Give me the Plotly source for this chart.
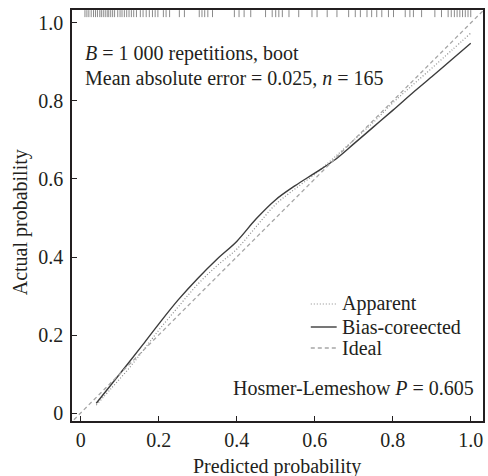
import plotly.graph_objects as go

# ---- data ----
pred_x = [0.04, 0.08, 0.12, 0.16, 0.20, 0.25, 0.30, 0.35, 0.40, 0.45, 0.50,
          0.55, 0.60, 0.65, 0.70, 0.75, 0.80, 0.85, 0.90, 0.95, 1.00]
apparent = [0.020, 0.065, 0.110, 0.160, 0.212, 0.272, 0.330, 0.378, 0.420, 0.478, 0.535,
            0.575, 0.612, 0.655, 0.700, 0.745, 0.795, 0.840, 0.884, 0.929, 0.974]
bias_corrected = [0.025, 0.075, 0.125, 0.176, 0.228, 0.290, 0.345, 0.395, 0.440, 0.498, 0.547,
                  0.583, 0.615, 0.648, 0.690, 0.733, 0.776, 0.820, 0.862, 0.905, 0.948]
ideal_x = [-0.03, 1.04]
ideal_y = [-0.03, 1.04]

rug_x = [0.011, 0.016, 0.021, 0.027, 0.033, 0.038, 0.043, 0.049, 0.053, 0.058, 0.063,
         0.068, 0.072, 0.077, 0.082, 0.087, 0.095, 0.101, 0.106, 0.112, 0.118, 0.124,
         0.130, 0.136, 0.143, 0.153, 0.160, 0.168, 0.176, 0.184, 0.191, 0.198, 0.212,
         0.219, 0.228, 0.253, 0.266, 0.304, 0.311, 0.318, 0.326, 0.338, 0.394, 0.406,
         0.419, 0.436, 0.474, 0.491, 0.500, 0.508, 0.517, 0.534, 0.559, 0.593, 0.606,
         0.632, 0.657, 0.687, 0.704, 0.717, 0.734, 0.746, 0.759, 0.772, 0.789, 0.802,
         0.832, 0.844, 0.853, 0.874, 0.908, 0.925, 0.942, 0.950, 0.958, 0.965, 0.972,
         0.979, 0.986, 0.993, 1.000]
rug_bottom = 1.015
rug_top = 1.033

x_ticks = [0, 0.2, 0.4, 0.6, 0.8, 1.0]
x_tick_text = ["0", "0.2", "0.4", "0.6", "0.8", "1.0"]
y_ticks = [0, 0.2, 0.4, 0.6, 0.8, 1.0]
y_tick_text = ["0", "0.2", "0.4", "0.6", "0.8", "1.0"]

legend_names = ["Apparent", "Bias-coreected", "Ideal"]

FONT = "Liberation Serif, Times New Roman, serif"
INK = "#231f20"
FS = 20

APP_STYLE = dict(color="#8c8c8c", width=1.2, dash="1px,2px")
BIAS_STYLE = dict(color="#3c3c3c", width=1.4)
IDEAL_STYLE = dict(color="#a6a6a6", width=1.3, dash="4px,3px")

fig = go.Figure()

# rug
rx, ry = [], []
for v in rug_x:
    rx += [v, v, None]
    ry += [rug_bottom, rug_top, None]
fig.add_trace(go.Scatter(x=rx, y=ry, mode="lines", line=dict(color="#8a8a8a", width=1),
                         showlegend=False, hoverinfo="skip"))

fig.add_trace(go.Scatter(x=pred_x, y=apparent, mode="lines", name=legend_names[0],
                         line=dict(shape="spline", **APP_STYLE), showlegend=False))
fig.add_trace(go.Scatter(x=pred_x, y=bias_corrected, mode="lines", name=legend_names[1],
                         line=dict(shape="spline", **BIAS_STYLE), showlegend=False))
fig.add_trace(go.Scatter(x=ideal_x, y=ideal_y, mode="lines", name=legend_names[2],
                         line=IDEAL_STYLE, showlegend=False))

axis_common = dict(showline=True, linecolor=INK, linewidth=1.5, mirror=True,
                   ticks="inside", ticklen=5, tickwidth=1.2, tickcolor=INK,
                   showgrid=False, zeroline=False,
                   tickfont=dict(family=FONT, size=FS, color=INK))

# manual legend (paper coordinates)
shapes = []
annotations = []
leg_rows = [0.2847, 0.2287, 0.1776]
for name, yy, st in zip(legend_names, leg_rows, [APP_STYLE, BIAS_STYLE, IDEAL_STYLE]):
    shapes.append(dict(type="line", xref="paper", yref="paper", x0=0.581, x1=0.644,
                       y0=yy, y1=yy, line=st))
    annotations.append(dict(text=name, xref="paper", yref="paper", x=0.652, y=yy,
                            xanchor="left", yanchor="middle", showarrow=False,
                            font=dict(family=FONT, size=FS, color=INK)))

annotations += [
    dict(text="<i>B</i> = 1 000 repetitions, boot", xref="paper", yref="paper",
         x=0.026, y=0.895, xanchor="left", yanchor="middle", showarrow=False,
         font=dict(family=FONT, size=FS, color=INK)),
    dict(text="Mean absolute error = 0.025, <i>n</i> = 165", xref="paper", yref="paper",
         x=0.026, y=0.8345, xanchor="left", yanchor="middle", showarrow=False,
         font=dict(family=FONT, size=FS, color=INK)),
    dict(text="Hosmer-Lemeshow <i>P</i> = 0.605", xref="paper", yref="paper",
         x=0.984, y=0.080, xanchor="right", yanchor="middle", showarrow=False,
         font=dict(family=FONT, size=FS, color=INK)),
    dict(text="Predicted probability", xref="paper", yref="paper",
         x=0.499, y=-0.1095, xanchor="center", yanchor="middle", showarrow=False,
         font=dict(family=FONT, size=FS, color=INK)),
    dict(text="Actual probability", xref="paper", yref="paper",
         x=-0.126, y=0.484, xanchor="center", yanchor="middle", showarrow=False,
         textangle=-90, font=dict(family=FONT, size=FS, color=INK)),
]

fig.update_layout(
    width=488, height=476,
    margin=dict(l=72, r=3, t=10, b=55),
    plot_bgcolor="white", paper_bgcolor="white",
    font=dict(family=FONT, size=FS, color=INK),
    xaxis=dict(range=[-0.0222, 1.0314], tickvals=x_ticks, ticktext=x_tick_text, **axis_common),
    yaxis=dict(range=[-0.0205, 1.0333], tickvals=y_ticks, ticktext=y_tick_text,
               ticklabelstandoff=3, **axis_common),
    showlegend=False,
    shapes=shapes,
    annotations=annotations,
)

fig.write_html("out.html")
